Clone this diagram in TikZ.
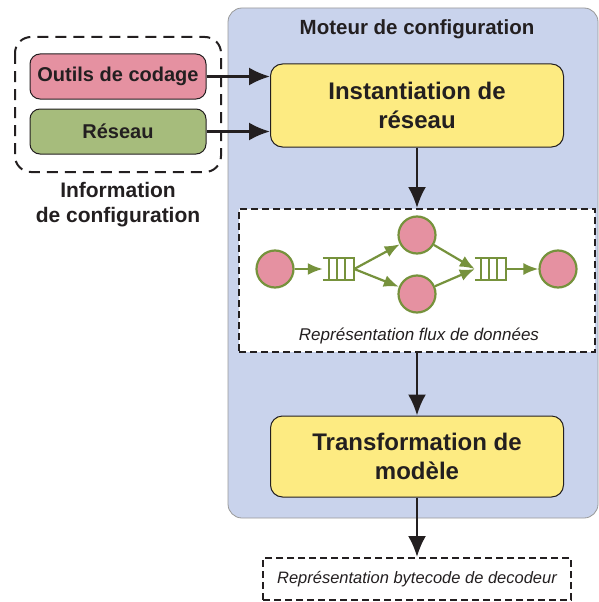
\documentclass[tikz,border=0pt]{standalone}
\usepackage{fontspec}
\setmainfont{Liberation Sans}
\usetikzlibrary{arrows.meta,calc}
\definecolor{engblue}{HTML}{C9D3EC}
\definecolor{cfgpink}{HTML}{E591A1}
\definecolor{netgreen}{HTML}{A6BC7C}
\definecolor{flowgreen}{HTML}{76923C}
\definecolor{stepyellow}{HTML}{FDEB82}
\definecolor{inkdark}{HTML}{231F20}

\begin{document}
\begin{tikzpicture}[x=1pt,y=-1pt,
  blackarrow/.style={-{Latex[length=21pt,width=18pt]},inkdark,line width=2.4pt},
  greenarrow/.style={-{Latex[length=15pt,width=12pt]},flowgreen,line width=2.2pt},
  inbox/.style={draw=inkdark,line width=1pt,rounded corners=10pt,minimum width=176pt,
    minimum height=45pt,inner sep=0pt,text=inkdark,font=\fontsize{20}{24}\selectfont\bfseries},
  stepbox/.style={draw=inkdark,line width=1pt,fill=stepyellow,rounded corners=12pt,
    minimum width=293pt,align=center,text=inkdark,font=\fontsize{24}{29}\selectfont\bfseries},
  actor/.style={circle,draw=flowgreen,line width=2.2pt,fill=cfgpink,minimum size=37pt,inner sep=0pt},
  queue/.style={minimum width=31pt,minimum height=22pt,inner sep=0pt},
  qline/.style={flowgreen,line width=2pt},
  dashbox/.style={draw=inkdark,dash pattern=on 7pt off 4pt,line width=2pt,fill=white,inner sep=0pt}]
  \useasboundingbox (0,0) rectangle (599,602);

  % the configuration engine
  \draw[fill=engblue,draw=gray!80,line width=0.8pt,rounded corners=14pt] (228,8) rectangle (598,518);
  \node[text=inkdark,font=\fontsize{20.5}{24}\selectfont\bfseries] (engine) at (417,29) {Moteur de configuration};

  % configuration inputs
  \draw[inkdark,dash pattern=on 11pt off 7pt,line width=2pt,rounded corners=16pt] (15,37) rectangle (221,172);
  \node[inbox,fill=cfgpink] (tools) at (118,76.5) {Outils de codage};
  \node[inbox,fill=netgreen] (net) at (118,131.5) {Réseau};
  \node[align=center,text=inkdark,font=\fontsize{21}{25}\selectfont\bfseries] (info) at (118,205)
    {Information\\de configuration};

  \node[stepbox,minimum height=83pt] (inst) at (417,105.5) {Instantiation de\\réseau};
  \draw[blackarrow] (tools.east) -- (inst.west |- tools.east);
  \draw[blackarrow] (net.east) -- (inst.west |- net.east);

  % dataflow representation
  \node[dashbox,minimum width=356pt,minimum height=143pt] (flux) at (417,280.5) {};
  \draw[blackarrow] (inst.south) -- (flux.north);
  \node[actor] (src) at (275,269) {};
  \node[actor] (top) at (417,235) {};
  \node[actor] (bot) at (417,294) {};
  \node[actor] (sink) at (558,269) {};
  \node[queue] (qin) at (338.5,269) {};
  \node[queue] (qout) at (490.5,269) {};
  \foreach \q in {qin,qout} {
    \draw[qline] (\q.north west) -- (\q.north east) -- (\q.south east) -- (\q.south west);
    \foreach \f in {0.2,0.46,0.72}
      \draw[qline] ($(\q.north west)!\f!(\q.north east)$) -- ($(\q.south west)!\f!(\q.south east)$);
  }
  \draw[greenarrow] (src) -- (qin.west);
  \draw[greenarrow] (qin.east) -- (top);
  \draw[greenarrow] (qin.east) -- (bot);
  \draw[greenarrow] (top) -- (qout.west);
  \draw[greenarrow] (bot) -- (qout.west);
  \draw[greenarrow] (qout.east) -- (sink);
  \node[text=inkdark,font=\fontsize{17}{20}\selectfont\itshape] (fluxlbl) at (419,336)
    {Représentation flux de données};

  % model transformation and output
  \node[stepbox,minimum height=81pt] (trans) at (417,456.5) {Transformation de\\modèle};
  \draw[blackarrow] (flux.south) -- (trans.north);
  \node[dashbox,minimum width=308pt,minimum height=42pt,text=inkdark,
    font=\fontsize{16.5}{19}\selectfont\itshape] (bytecode) at (417,579)
    {Représentation bytecode de decodeur};
  \draw[blackarrow] (trans.south) -- (bytecode.north);
\end{tikzpicture}
\end{document}
